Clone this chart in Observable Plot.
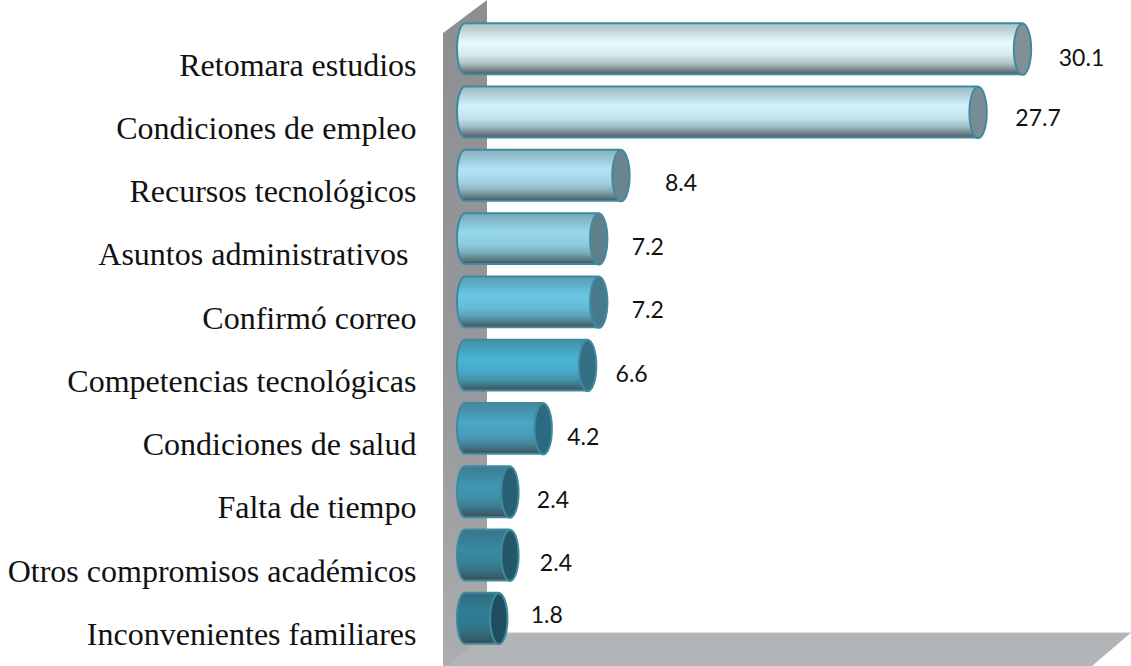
<!DOCTYPE html>
<html>
<head>
<meta charset="utf-8">
<script src="https://cdn.jsdelivr.net/npm/d3@7"></script>
<script src="https://cdn.jsdelivr.net/npm/@observablehq/plot@0.6"></script>
<style>
html,body{margin:0;padding:0;background:#fff;overflow:hidden}
svg text{white-space:pre}
</style>
</head>
<body>
<div id="chart"></div>
<script>
const categories = ["Retomara estudios","Condiciones de empleo","Recursos tecnológicos","Asuntos administrativos ","Confirmó correo","Competencias tecnológicas","Condiciones de salud","Falta de tiempo","Otros compromisos académicos","Inconvenientes familiares"];
const values = [30.1,27.7,8.4,7.2,7.2,6.6,4.2,2.4,2.4,1.8];
const tickLabels = values.map(v => v.toFixed(1));
// styling only
const bodyColors = ["#e6fcff","#cff3fe","#b0e4f5","#96d9ee","#69c8e5","#48b5d6","#48a8c6","#3f97b3","#378aa4","#2f7f96"];
const capColors  = ["#7f9097","#778c94","#6b858f","#5f7f89","#497a8b","#336f85","#2c6a80","#285f73","#245868","#1f4e5e"];
const labelDx = [59,60,60,49,49,44,40,43,46,48];
const labelDy = [9,6,8,8.5,8,9,8.5,8,8,-3.5];

const rows = categories.map((category,i)=>({category,value:values[i],label:tickLabels[i],i}));

const ellipse = {draw(ctx,size){
  const ry = Math.sqrt(size/Math.PI), rx = ry*0.34, k = 0.5523;
  ctx.moveTo(0,-ry);
  ctx.bezierCurveTo(k*rx,-ry,rx,-k*ry,rx,0);
  ctx.bezierCurveTo(rx,k*ry,k*rx,ry,0,ry);
  ctx.bezierCurveTo(-k*rx,ry,-rx,k*ry,-rx,0);
  ctx.bezierCurveTo(-rx,-k*ry,-k*rx,-ry,0,-ry);
  ctx.closePath();
}};

function backdrop(index,{x,y},channels,{width,height}){
  const svgNS="http://www.w3.org/2000/svg";
  const g=d3.select(document.createElementNS(svgNS,"g"));
  const defs=g.append("defs");
  const wg=defs.append("linearGradient").attr("id","wall").attr("x1",0).attr("x2",0).attr("y1",0).attr("y2",1);
  wg.append("stop").attr("offset",0).attr("stop-color","#8d8e91");
  wg.append("stop").attr("offset",.6).attr("stop-color","#98999c");
  wg.append("stop").attr("offset",1).attr("stop-color","#acadaf");
  bodyColors.forEach((c,i)=>{
    const lg=defs.append("linearGradient").attr("id","cyl"+i).attr("x1",0).attr("x2",0).attr("y1",0).attr("y2",1);
    const shade=t=>d3.interpolateRgb(c,"#3a4448")(t);
    [[0,shade(.32)],[.1,shade(.25)],[.38,c],[.62,shade(.1)],[.78,shade(.3)],[.92,shade(.65)],[1,shade(.9)]]
      .forEach(([o,col])=>lg.append("stop").attr("offset",o).attr("stop-color",col));
  });
  const x0=x(0), back=x0+22, front=x0-22, floorY=y(categories[categories.length-1])+y.bandwidth()-11;
  g.append("polygon").attr("fill","url(#wall)")
    .attr("points",[[back,0],[front,33],[front,height],[back,height]].join(" "));
  g.append("polygon").attr("fill","#b1b5b8")
    .attr("points",[[back,floorY],[width,floorY],[width-39,height],[front+4,height]].join(" "));
  g.append("line").attr("stroke","#d9dbdc").attr("x1",back).attr("x2",width).attr("y1",floorY).attr("y2",floorY);
  return g.node();
}

const chart = Plot.plot({
  width:1131, height:666,
  marginLeft:465, marginRight:109, marginTop:11, marginBottom:10,
  x:{domain:[0,30.1],axis:null},
  y:{domain:categories,padding:0.195,round:false,axis:null},
  style:{background:"transparent"},
  marks:[
    backdrop,
    Plot.barX(rows,{y:"category",x1:0,x2:"value",insetLeft:-8,insetRight:-8,rx:8,ry:25.5,
      fill:d=>`url(#cyl${d.i})`,stroke:"#41899f",strokeWidth:2}),
    Plot.dot(rows,{y:"category",x:"value",r:25.5,symbol:ellipse,
      fill:d=>capColors[d.i],stroke:"#41899f",strokeWidth:2}),
    Plot.axisY({anchor:"left",label:null,tickSize:0,tickPadding:49,dy:16,
      fontFamily:"Liberation Serif",fontSize:32,fill:"#111"}),
    ...rows.map(r=>Plot.text([r],{y:"category",x:"value",text:"label",
      dx:labelDx[r.i],dy:labelDy[r.i],textAnchor:"middle",
      fontFamily:"Lato",fontSize:23,fill:"#111"}))
  ]
});
document.getElementById("chart").append(chart);
</script>
</body>
</html>
